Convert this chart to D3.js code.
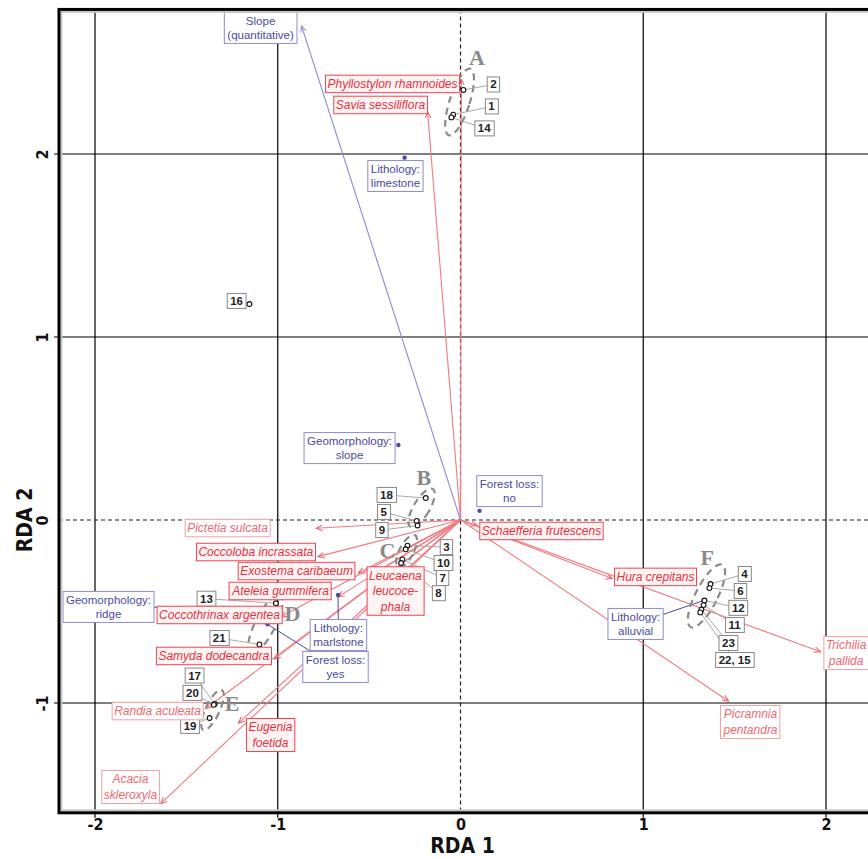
<!DOCTYPE html>
<html>
<head>
<meta charset="utf-8">
<script src="https://cdn.jsdelivr.net/npm/d3@7"></script>
<style>
  body { margin: 0; background: #fff; }
  svg { display: block; }
  .tick-lab { font-family: "DejaVu Sans Condensed", "DejaVu Sans", sans-serif; font-weight: bold; font-size: 16px; fill: #111; }
  .axis-title { font-family: "DejaVu Sans Condensed", "DejaVu Sans", sans-serif; font-weight: bold; font-size: 21px; fill: #111; }
  .site-lab { font-family: "Liberation Sans", Arial, sans-serif; font-size: 11.5px; font-weight: bold; fill: #222; }
  .env-lab { font-family: "Liberation Sans", Arial, sans-serif; font-size: 11.5px; fill: #4a4aa0; }
  .sp-lab { font-family: "Liberation Sans", Arial, sans-serif; font-size: 12px; font-style: italic; }
  .grp { font-family: "Liberation Serif", "DejaVu Serif", serif; font-weight: bold; font-size: 22px; fill: #8a8a8a; }
</style>
</head>
<body>
<svg width="868" height="859"></svg>
<script>
// ---- data ----
// sites (RDA1, RDA2)
var siteIds  = ["2", "1", "14", "16", "18", "5", "9", "3", "10", "7", "8", "13", "21", "17", "20", "19", "4", "6", "12", "11", "23", "22, 15"];
var siteRda1 = [0.016, -0.04, -0.05, -1.155, -0.19, -0.24, -0.235, -0.29, -0.30, -0.318, -0.325, -1.01, -1.10, -1.345, -1.35, -1.373, 1.368, 1.362, 1.335, 1.33, 1.318, 1.312];
var siteRda2 = [2.35, 2.215, 2.20, 1.18, 0.12, -0.005, -0.03, -0.14, -0.16, -0.215, -0.235, -0.455, -0.68, -1.005, -1.01, -1.082, -0.35, -0.372, -0.44, -0.465, -0.49, -0.505];
// where each site tag sits (RDA units)
var siteTagX = [0.18, 0.17, 0.13, -1.225, -0.405, -0.42, -0.43, -0.077, -0.093, -0.098, -0.12, -1.39, -1.32, -1.455, -1.467, -1.48, 1.554, 1.532, 1.52, 1.50, 1.466, 1.50];
var siteTagY = [2.38, 2.26, 2.14, 1.197, 0.137, 0.044, -0.055, -0.148, -0.235, -0.317, -0.40, -0.43, -0.645, -0.85, -0.945, -1.125, -0.295, -0.388, -0.48, -0.574, -0.672, -0.765];

// species scores (arrow tips)
var species = ["Phyllostylon rhamnoides", "Savia sessiliflora", "Pictetia sulcata", "Coccoloba incrassata", "Exostema caribaeum",
  "Ateleia gummifera", "Coccothrinax argentea", "Samyda dodecandra", "Randia aculeata", "Eugenia|foetida",
  "Acacia|skleroxyla", "Leucaena|leucoce-|phala", "Schaefferia frutescens", "Hura crepitans", "Trichilia|pallida", "Picramnia|pentandra"];
var spRda1 = [0.005, -0.18, -0.79, -0.78, -0.56, -0.67, -0.985, -1.02, -1.395, -1.215, -1.64, -0.50, 0.09, 0.83, 1.97, 1.467];
var spRda2 = [2.41, 2.23, -0.045, -0.20, -0.29, -0.42, -0.53, -0.76, -1.03, -1.11, -1.55, -0.31, -0.03, -0.32, -0.72, -0.99];
var spTagX = [-0.372, -0.438, -1.275, -1.12, -0.897, -0.985, -1.319, -1.35, -1.658, -1.04, -1.806, -0.356, 0.443, 1.067, 2.11, 1.587];
var spTagY = [2.383, 2.268, -0.044, -0.175, -0.279, -0.388, -0.519, -0.743, -1.044, -1.175, -1.459, -0.388, -0.06, -0.311, -0.727, -1.104];
var spFaint = [0, 0, 1, 0, 0, 0, 0, 0, 1, 0, 1, 0, 0, 0, 1, 1];

// environmental variables
var envNames = ["Slope|(quantitative)", "Lithology:|limestone", "Geomorphology:|slope", "Forest loss:|no",
  "Geomorphology:|ridge", "Lithology:|marlstone", "Forest loss:|yes", "Lithology:|alluvial"];
var envRda1 = [-0.87, -0.306, -0.34, 0.104, -1.30, -0.67, -1.056, 1.33];
var envRda2 = [2.70, 1.98, 0.41, 0.05, -0.48, -0.41, -0.57, -0.44];
var envTagX = [-1.094, -0.356, -0.607, 0.268, -1.926, -0.668, -0.684, 0.958];
var envTagY = [2.689, 1.88, 0.393, 0.158, -0.475, -0.628, -0.803, -0.568];
var envArrow = [1, 0, 0, 0, 0, 0, 0, 0];
var envLeader = [0, 0, 0, 0, 1, 1, 1, 1];

// site groups
var groups = ["A", "B", "C", "D", "E", "F"];
var grpRda1 = [-0.005, -0.213, -0.295, -1.067, -1.357, 1.346];
var grpRda2 = [2.284, 0.066, -0.17, -0.568, -1.038, -0.415];
var grpTagX = [0.09, -0.2, -0.40, -0.92, -1.25, 1.35];
var grpTagY = [2.53, 0.23, -0.165, -0.51, -1.0, -0.205];
var grpRx = [10, 8, 7, 10, 7, 11];
var grpRy = [35, 22, 18, 33, 22, 35];
var grpAngle = [18, 31, 28, 27, 25, 27];

var xTicks = [-2, -1, 0, 1, 2];
var yTicks = [-1, 0, 1, 2];

// ---- drawing ----
var svg = d3.select("svg");
var x = d3.scaleLinear().domain([-2, 2]).range([95, 826]);
var y = d3.scaleLinear().domain([-1, 2]).range([703, 154]);

var fLeft = x(-2.197), fRight = x(2.27), fTop = y(2.79), fBottom = y(-1.6);

var red = "#f05a64", redLine = "#f27a80", blue = "#4a4aa0", blueLine = "#8a8ad0";

var defs = svg.append("defs");
function marker(id, col) {
  defs.append("marker").attr("id", id)
    .attr("viewBox", "0 0 10 10").attr("refX", 9).attr("refY", 5)
    .attr("markerWidth", 7).attr("markerHeight", 7).attr("orient", "auto")
    .attr("markerUnits", "userSpaceOnUse")
    .append("path").attr("d", "M0,1 L9,5 L0,9").attr("fill", "none")
    .attr("stroke", col).attr("stroke-width", 1.4);
}
marker("arrRed", red);
marker("arrBlue", blueLine);

// grid
var grid = svg.append("g");
grid.selectAll(".gx").data(xTicks).enter().append("line")
  .attr("x1", d => x(d)).attr("x2", d => x(d))
  .attr("y1", fTop).attr("y2", d => d === 0 ? fBottom : fBottom + 5)
  .attr("stroke", d => d === 0 ? "#222" : "#000")
  .attr("stroke-width", 1.2)
  .attr("stroke-dasharray", d => d === 0 ? "4,3" : null);
grid.selectAll(".gy").data(yTicks).enter().append("line")
  .attr("y1", d => y(d)).attr("y2", d => y(d))
  .attr("x1", d => d === 0 ? fLeft : fLeft - 5).attr("x2", fRight)
  .attr("stroke", d => d === 0 ? "#222" : "#000")
  .attr("stroke-width", 1.2)
  .attr("stroke-dasharray", d => d === 0 ? "4,3" : null);

// axes labels via d3 axes (plain hyphen minus like the original)
var fmt = d => String(d);
var xAxis = svg.append("g").attr("transform", "translate(0," + fBottom + ")")
  .call(d3.axisBottom(x).tickValues(xTicks).tickSize(0).tickPadding(6).tickFormat(fmt));
xAxis.select(".domain").remove();
xAxis.selectAll("text").attr("class", "tick-lab").attr("fill", null);

var yAxis = svg.append("g").attr("transform", "translate(" + fLeft + ",0)")
  .call(d3.axisLeft(y).tickValues(yTicks).tickSize(0).tickFormat(fmt));
yAxis.select(".domain").remove();
yAxis.selectAll("text").attr("class", "tick-lab").attr("fill", null)
  .attr("x", 0).attr("dy", null).attr("text-anchor", "middle")
  .attr("dominant-baseline", "central")
  .attr("transform", "translate(-16,0) rotate(-90)");

svg.append("text").attr("class", "axis-title").attr("x", x(0) + 2).attr("y", 853)
  .attr("text-anchor", "middle").text("RDA 1");
svg.append("text").attr("class", "axis-title")
  .attr("transform", "translate(32," + y(0) + ") rotate(-90)")
  .attr("text-anchor", "middle").text("RDA 2");

var plot = svg.append("g");

// species arrows
plot.selectAll(".sp").data(species).enter().append("line")
  .attr("x1", x(0)).attr("y1", y(0))
  .attr("x2", (d, i) => x(spRda1[i])).attr("y2", (d, i) => y(spRda2[i]))
  .attr("stroke", redLine).attr("stroke-width", 1.1)
  .attr("marker-end", "url(#arrRed)");

// env arrows / points
envNames.forEach(function (n, i) {
  if (envArrow[i]) {
    plot.append("line").attr("x1", x(0)).attr("y1", y(0))
      .attr("x2", x(envRda1[i])).attr("y2", y(envRda2[i]))
      .attr("stroke", blueLine).attr("stroke-width", 1.1)
      .attr("marker-end", "url(#arrBlue)");
  } else {
    if (envLeader[i]) {
      plot.append("line").attr("x1", x(envTagX[i])).attr("y1", y(envTagY[i]))
        .attr("x2", x(envRda1[i])).attr("y2", y(envRda2[i]))
        .attr("stroke", blue).attr("stroke-width", 1);
    }
    plot.append("circle").attr("cx", x(envRda1[i])).attr("cy", y(envRda2[i]))
      .attr("r", 2.2).attr("fill", blue);
  }
});

// group ellipses
groups.forEach(function (g, i) {
  var cx = x(grpRda1[i]), cy = y(grpRda2[i]);
  plot.append("ellipse").attr("cx", cx).attr("cy", cy)
    .attr("rx", grpRx[i]).attr("ry", grpRy[i])
    .attr("transform", "rotate(" + grpAngle[i] + "," + cx + "," + cy + ")")
    .attr("fill", "none").attr("stroke", "#8a8a8a").attr("stroke-width", 2.2)
    .attr("stroke-dasharray", "7,5");
  plot.append("text").attr("class", "grp").attr("x", x(grpTagX[i])).attr("y", y(grpTagY[i]))
    .attr("text-anchor", "middle").attr("dominant-baseline", "central").text(g);
});

// site leader lines and points
siteIds.forEach(function (s, i) {
  plot.append("line").attr("x1", x(siteTagX[i])).attr("y1", y(siteTagY[i]))
    .attr("x2", x(siteRda1[i])).attr("y2", y(siteRda2[i]))
    .attr("stroke", "#aaa").attr("stroke-width", 1);
});
siteIds.forEach(function (s, i) {
  plot.append("circle").attr("cx", x(siteRda1[i])).attr("cy", y(siteRda2[i]))
    .attr("r", 2.4).attr("fill", "#fff").attr("stroke", "#111").attr("stroke-width", 1.1);
});

// boxed label helper
function boxLabel(lines, cx, cy, cls, txtCol, boxCol, boxFill, lh, padX, padY) {
  var g = plot.append("g");
  var rect = g.append("rect");
  var t = g.append("text").attr("class", cls).attr("text-anchor", "middle").attr("fill", txtCol);
  var n = lines.length;
  lines.forEach(function (l, k) {
    t.append("tspan").attr("x", cx).attr("y", cy + (k - (n - 1) / 2) * lh)
      .attr("dominant-baseline", "central").text(l);
  });
  var bb = t.node().getBBox();
  rect.attr("x", bb.x - padX).attr("y", cy - (n * lh) / 2 - padY)
    .attr("width", bb.width + 2 * padX).attr("height", n * lh + 2 * padY)
    .attr("fill", boxFill).attr("stroke", boxCol).attr("stroke-width", 1);
}

siteIds.forEach(function (s, i) {
  boxLabel([s], x(siteTagX[i]), y(siteTagY[i]), "site-lab", "#222", "#888", "#fff", 13, 3, 1);
});

envNames.forEach(function (n, i) {
  boxLabel(n.split("|"), x(envTagX[i]), y(envTagY[i]), "env-lab", blue, "#8c8cd0", "#fff", 14.5, 3, 1);
});

species.forEach(function (n, i) {
  var faint = spFaint[i];
  boxLabel(n.split("|"), x(spTagX[i]), y(spTagY[i]), "sp-lab",
    faint ? "#f06870" : "#e8303c", faint ? "#f4a0a4" : "#ee4450",
    faint ? "#fff" : "#fff4f4", 15.5, 2, 1);
});

// frame
svg.append("rect").attr("x", fLeft + 2.5).attr("y", fTop + 2.5)
  .attr("width", fRight - fLeft - 5).attr("height", fBottom - fTop - 5)
  .attr("fill", "none").attr("stroke", "#c8c8c8").attr("stroke-width", 2);
svg.append("rect").attr("x", fLeft).attr("y", fTop)
  .attr("width", fRight - fLeft).attr("height", fBottom - fTop)
  .attr("fill", "none").attr("stroke", "#000").attr("stroke-width", 3);
</script>
</body>
</html>
